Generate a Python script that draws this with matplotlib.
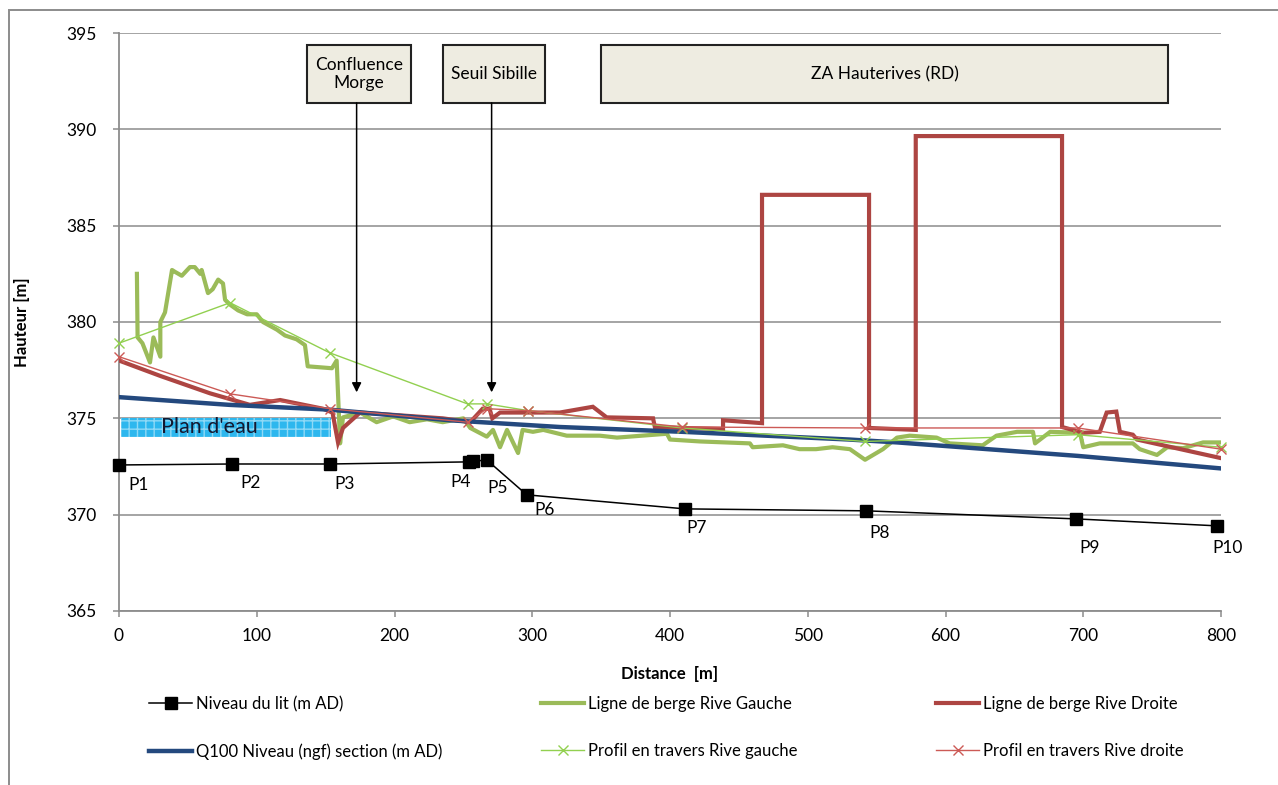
import matplotlib
matplotlib.use("Agg")
import matplotlib.pyplot as plt
from matplotlib.lines import Line2D
from matplotlib.patches import Rectangle

plt.rcParams["font.family"] = ["Lato", "DejaVu Sans"]

# lit (bed level) points
lit_x = [0, 82, 153, 254, 257, 267, 296, 411, 542, 695, 797]
lit_y = [372.58, 372.63, 372.63, 372.74, 372.77, 372.84, 371.03, 370.3, 370.2, 369.78, 369.42]
lit_labels = ["P1", "P2", "P3", "P4", None, "P5", "P6", "P7", "P8", "P9", "P10"]
# label offsets in pixels (right, down)
lit_label_off = [(9, 20), (8, 19), (5, 20), (-19, 20), None, (1, 28), (8, 15), (1, 19), (4, 22), (3, 29), (-4, 22)]

# Q100 water level
q100_x = [0, 80, 153, 240, 320, 409, 530, 565, 696, 800]
q100_y = [376.1, 375.7, 375.45, 374.9, 374.55, 374.3, 373.9, 373.75, 373.05, 372.4]

# bank line left (rive gauche)
rg_x = [13, 13.5, 17, 22.5, 25, 30, 30, 33.4, 38.5, 40.7, 45.6, 51.5, 55, 59, 60, 64.6, 68, 72,
        75.5, 77, 80.6, 86.5, 93, 100, 104.5, 114.7, 120.5, 129, 135, 137, 154.6, 158, 160.5,
        162.6, 175, 187, 199, 211, 223.6, 235, 250, 255, 267, 271.5, 276.6, 281.7, 289.7, 293,
        300.5, 308, 325, 349, 361.5, 397.8, 400, 421.8, 458, 460, 482, 494, 506, 518, 530.6,
        541.6, 554.6, 564.8, 574, 593.5, 603, 627, 637, 652, 663.5, 665, 676, 697.6, 700, 712,
        736, 741, 753.5, 761, 772.5, 787, 799]
rg_y = [382.5, 379.2, 378.9, 377.9, 379.2, 378.2, 380.0, 380.5, 382.7, 382.6, 382.4, 382.85,
        382.85, 382.5, 382.7, 381.5, 381.7, 382.2, 382.0, 381.15, 380.9, 380.6, 380.4, 380.4,
        380.0, 379.6, 379.3, 379.1, 378.8, 377.7, 377.6, 378.0, 373.7, 375.05, 375.3, 374.8,
        375.1, 374.8, 374.95, 374.8, 375.0, 374.5, 374.05, 374.4, 373.5, 374.4, 373.2, 374.4,
        374.3, 374.4, 374.1, 374.1, 374.0, 374.2, 373.9, 373.8, 373.7, 373.5, 373.6, 373.4,
        373.4, 373.5, 373.4, 372.85, 373.4, 374.0, 374.1, 374.0, 373.7, 373.6, 374.1, 374.3,
        374.3, 373.7, 374.3, 374.25, 373.5, 373.7, 373.7, 373.4, 373.1, 373.5, 373.45, 373.75,
        373.75]

# bank line right (rive droite)
rd_x = [0, 30, 66, 95, 117, 148, 155, 159, 162.6, 175, 235, 255, 264, 269, 271, 276.6, 320, 344,
        354, 387.7, 389, 409.4, 438.5, 438.5, 466.8, 466.8, 544.5, 544.5, 578.4, 578.4, 684.6,
        684.6, 700, 712, 717, 724, 726.6, 736, 739, 799]
rd_y = [378.0, 377.2, 376.3, 375.7, 375.95, 375.5, 375.3, 373.75, 374.5, 375.3, 375.0, 374.8,
        375.5, 375.5, 375.0, 375.3, 375.3, 375.6, 375.05, 375.0, 374.55, 374.5, 374.45, 374.9,
        374.75, 386.6, 386.6, 374.5, 374.4, 389.65, 389.65, 374.55, 374.25, 374.3, 375.3,
        375.35, 374.3, 374.15, 373.9, 372.95]

# cross-section profiles
prof_x = [0, 80.6, 153, 253, 267, 297, 409, 541.6, 696, 800]
prof_rg_y = [378.9, 381.0, 378.4, 375.75, 375.75, 375.4, 374.5, 373.8, 374.15, 373.5]
prof_rd_y = [378.2, 376.27, 375.5, 374.8, 375.5, 375.4, 374.55, 374.5, 374.5, 373.4]

# annotation boxes: (x0, x1, text, arrow_x)
boxes = [
    (136.5, 212, "Confluence\nMorge", 172.5),
    (235, 309, "Seuil Sibille", 270.5),
    (350, 761.5, "ZA Hauterives (RD)", None),
]
box_y0, box_y1 = 391.37, 394.38
arrow_tip_y = 376.35

plan_x0, plan_x1 = 1.5, 154
plan_y0, plan_y1 = 374.05, 375.0

C_GREEN = "#9BBB59"
C_RED = "#AD4542"
C_BLUE = "#24497E"
C_LGREEN = "#92D050"
C_LRED = "#CC5A56"
C_GRID = "#8C8C8C"

fig = plt.figure(figsize=(12.78, 7.85), dpi=100)
ax = fig.add_axes([119 / 1278, 1 - 611 / 785, 1102 / 1278, 578 / 785])

ax.set_xlim(0, 800)
ax.set_ylim(365, 395)
ax.set_xticks(range(0, 801, 100))
ax.set_yticks(range(365, 396, 5))
ax.yaxis.grid(True, color=C_GRID, lw=1.1)
ax.set_axisbelow(True)
for s in ["top", "right"]:
    ax.spines[s].set_visible(False)
for s in ["left", "bottom"]:
    ax.spines[s].set_color(C_GRID)
    ax.spines[s].set_linewidth(1.3)
ax.tick_params(direction="out", length=4, width=1.1, color=C_GRID, labelsize=12.5)
ax.tick_params(axis="y", pad=12)
ax.tick_params(axis="x", pad=8)

ax.set_xlabel("Distance  [m]", fontsize=12, fontweight="bold")
ax.set_ylabel("Hauteur [m]", fontsize=12, fontweight="bold")
ax.xaxis.set_label_coords(0.5, -0.095)
ax.yaxis.set_label_coords(-0.081, 0.5)

# plan d'eau
ax.add_patch(Rectangle((plan_x0, plan_y0), plan_x1 - plan_x0, plan_y1 - plan_y0,
                       facecolor="#2DB7EE", edgecolor="#8FD9F6", hatch="++", lw=0, zorder=1))
ax.text((plan_x0 + plan_x1) / 2 - 12, (plan_y0 + plan_y1) / 2, "Plan d'eau",
        fontsize=15.5, color="#141830", ha="center", va="center", zorder=2)

h_rg, = ax.plot(rg_x, rg_y, color=C_GREEN, lw=3, solid_joinstyle="round", zorder=3)
h_rd, = ax.plot(rd_x, rd_y, color=C_RED, lw=3, solid_joinstyle="miter", zorder=4)
h_q, = ax.plot(q100_x, q100_y, color=C_BLUE, lw=3.2, zorder=5)
h_prg, = ax.plot(prof_x, prof_rg_y, color=C_LGREEN, lw=1, marker="x", ms=7, mew=1,
                 zorder=6, clip_on=False)
h_prd, = ax.plot(prof_x, prof_rd_y, color=C_LRED, lw=1, marker="x", ms=7, mew=1,
                 zorder=6, clip_on=False)
h_lit, = ax.plot(lit_x, lit_y, color="black", lw=1.1, marker="s", ms=8, zorder=7, clip_on=False)

for x, y, lab, off in zip(lit_x, lit_y, lit_labels, lit_label_off):
    if lab is None:
        continue
    ax.annotate(lab, (x, y), xytext=(off[0] * 0.72, -off[1] * 0.72), textcoords="offset points",
                fontsize=12.5, ha="left", va="center")

for x0, x1, txt, ax_x in boxes:
    ax.add_patch(Rectangle((x0, box_y0), x1 - x0, box_y1 - box_y0, facecolor="#EEECE1",
                           edgecolor="#222222", lw=1.5, zorder=8))
    ax.text((x0 + x1) / 2, (box_y0 + box_y1) / 2, txt, fontsize=12.5, ha="center",
            va="center", linespacing=1.15, zorder=9)
    if ax_x is not None:
        ax.annotate("", xy=(ax_x, arrow_tip_y), xytext=(ax_x, box_y0),
                    arrowprops=dict(arrowstyle="-|>", color="black", lw=1.1,
                                    mutation_scale=14, shrinkA=0, shrinkB=0), zorder=8)

# legend in three columns
cols = [
    ([h_lit, h_q], ["Niveau du lit (m AD)", "Q100 Niveau (ngf) section (m AD)"], 149),
    ([h_rg, h_prg], ["Ligne de berge Rive Gauche", "Profil en travers Rive gauche"], 541),
    ([h_rd, h_prd], ["Ligne de berge Rive Droite", "Profil en travers Rive droite"], 936),
]
for hs, labs, px in cols:
    fig.legend(hs, labs, loc="upper left", bbox_to_anchor=(px / 1278, 1 - 696 / 785),
               frameon=False, fontsize=12, handlelength=2.6, handletextpad=0.2,
               labelspacing=1.87, borderpad=0, borderaxespad=0)

# outer chart border (left and top edges visible)
bx = 8.5 / 1278
by = 1 - 9.5 / 785
fig.add_artist(Line2D([bx, bx, 1.0], [0.0, by, by], color=C_GRID, lw=1.4,
                      transform=fig.transFigure, solid_joinstyle="miter"))

fig.savefig("out.png", dpi=100)
